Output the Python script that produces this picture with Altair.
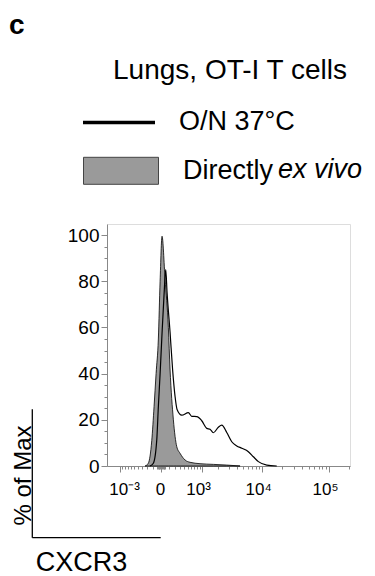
import altair as alt
import pandas as pd

# ---------------- text ----------------
PANEL_LABEL = "c"
TITLE = "Lungs, OT-I T cells"
SERIES_LINE = "O/N 37°C"
SERIES_FILL = "Directly ex vivo"
FILL_LABEL_PLAIN = "Directly"
FILL_LABEL_ITALIC = "ex vivo"
X_TITLE = "CXCR3"
Y_TITLE = "% of Max"

# ---------------- data (CXCR3 intensity, % of max) ----------------
GRAY_X = [-239, -179, -123, -89, -61, -32, -11, 11, 48, 93, 118, 172, 233,
          300, 417, 556, 915, 1628, 2760, 4531]
GRAY_Y = [0, 1.2, 11, 25.7, 40, 55, 80, 99.5, 81, 60, 42, 20, 8.4,
          5.5, 2.6, 1.6, 1.0, 0.7, 0.4, 0]

ON_X = [-150, -99, -52, -32, -11, 8, 35, 57, 75, 118, 158, 202, 239, 338,
        506, 609, 783, 989, 1234, 1420, 1628, 1992, 2276, 2760, 3334, 4014,
        4821, 6118, 7315, 8736, 11735, 16629]
ON_Y = [0, 1.2, 11.3, 25.7, 40, 55, 74, 85, 75, 58, 42, 30, 24.5, 22,
        23.1, 21.5, 21.4, 19.6, 16.3, 15.9, 14.4, 16.8, 17.7, 14.5, 10.5, 8.7,
        7.7, 6.2, 4.0, 1.9, 0.4, 0]

# ---------------- axis ticks ----------------
X_MAJOR = [-1000, 0, 1000, 10000, 100000]
X_MAJOR_LABELS = ["10⁻³", "0", "10³", "10⁴", "10⁵"]
X_MINOR = [-900, -800, -700, -600, -500, -400, -300, -200, -100,
           -50, -40, -30, -20, -10, 10, 20, 30, 40, 50,
           100, 200, 300, 400, 500, 600, 700, 800, 900,
           2000, 3000, 4000, 5000, 6000, 7000, 8000, 9000,
           20000, 30000, 40000, 50000, 60000, 70000, 80000, 90000, 200000]
Y_MAJOR = [0, 20, 40, 60, 80, 100]
Y_MINOR = [5, 10, 15, 25, 30, 35, 45, 50, 55, 65, 70, 75, 85, 90, 95]

FONT = "Liberation Sans"

gray_df = pd.DataFrame({"cxcr3": GRAY_X, "pct": GRAY_Y, "sample": SERIES_FILL})
on_df = pd.DataFrame({"cxcr3": ON_X, "pct": ON_Y, "sample": SERIES_LINE})

x_label_expr = " : ".join(
    f"datum.value == {v} ? '{l}'" for v, l in zip(X_MAJOR, X_MAJOR_LABELS)
) + " : ''"
x_major_test = "indexof([" + ",".join(str(v) for v in X_MAJOR) + "], datum.value) >= 0"

x_scale = alt.Scale(type="symlog", constant=330, domain=[-1750, 205000], nice=False)
y_scale = alt.Scale(domain=[0, 104.8], nice=False, zero=False)

x_axis = alt.Axis(
    values=sorted(X_MAJOR + X_MINOR),
    tickCount=1000,
    labelExpr=x_label_expr,
    tickSize={"condition": {"test": x_major_test, "value": 6}, "value": 3},
    labelOffset={"condition": [{"test": "datum.value == -1000", "value": 4},
                               {"test": "datum.value == 0", "value": -1}],
                 "value": -4},
    labelFontSize=17,
    labelPadding=9,
    labelOverlap=False,
    labelFlush=False,
    labelBound=False,
    grid=False,
    title=X_TITLE,
    titleFontSize=27,
    titleFontWeight="normal",
    titleX=-26,
    titleY=104,
    titleBaseline="alphabetic",
    titleAlign="center",
)

y_axis = alt.Axis(
    values=sorted(Y_MAJOR + Y_MINOR),
    tickCount=1000,
    format="d",
    labelExpr="datum.value % 20 == 0 ? format(datum.value, 'd') : ''",
    tickSize={"condition": {"test": "datum.value % 20 == 0", "value": 6}, "value": 3},
    labelFontSize=19,
    labelPadding=2,
    labelOverlap=False,
    labelBound=False,
    grid=False,
    title=Y_TITLE,
    titleFontSize=24,
    titleFontWeight="normal",
    titleX=-77,
    titleY=251,
    titleBaseline="alphabetic",
    titleAlign="center",
)

area = alt.Chart(gray_df).mark_area(
    interpolate="monotone", stroke="black", strokeWidth=0.8
).encode(
    x=alt.X("cxcr3:Q", scale=x_scale, axis=x_axis),
    y=alt.Y("pct:Q", scale=y_scale, axis=y_axis),
    fill=alt.Fill(
        "sample:N",
        scale=alt.Scale(domain=[SERIES_FILL], range=["#9a9a9a"]),
        legend=alt.Legend(
            orient="none", legendX=-24, legendY=-91.2, title=None,
            symbolType="M-1,-0.36H1V0.36H-1Z", symbolSize=5625,
            symbolStrokeColor="#444444", symbolStrokeWidth=1, symbolOpacity=1,
            labelExpr=f"'{FILL_LABEL_PLAIN}'", labelFont=FONT, labelFontSize=27,
            labelColor="black", labelOffset=24, labelLimit=400, padding=0,
        ),
    ),
)

line = alt.Chart(on_df).mark_line(
    interpolate="monotone", strokeWidth=1.2
).encode(
    x=alt.X("cxcr3:Q", scale=x_scale),
    y=alt.Y("pct:Q", scale=y_scale),
    stroke=alt.Stroke(
        "sample:N",
        scale=alt.Scale(domain=[SERIES_LINE], range=["black"]),
        legend=alt.Legend(
            orient="none", legendX=-26, legendY=-139.6, title=None,
            symbolType="stroke", symbolSize=5184, symbolStrokeWidth=3.5,
            labelFont=FONT, labelFontSize=27, labelColor="black",
            labelOffset=22, labelLimit=400, padding=0,
        ),
    ),
)

panel = alt.Chart(pd.DataFrame({"t": [PANEL_LABEL]})).mark_text(
    font=FONT, fontSize=28, fontWeight="bold", align="left", baseline="alphabetic",
    color="black",
).encode(text="t:N", x=alt.value(-98), y=alt.value(-190))

title = alt.Chart(pd.DataFrame({"t": [TITLE]})).mark_text(
    font=FONT, fontSize=28, align="center", baseline="alphabetic", color="black",
).encode(text="t:N", x=alt.value(123), y=alt.value(-145))

italic = alt.Chart(pd.DataFrame({"t": [FILL_LABEL_ITALIC]})).mark_text(
    font=FONT, fontSize=27, fontStyle="italic", align="left", baseline="middle",
    color="black",
).encode(text="t:N", x=alt.value(171), y=alt.value(-53.7))

rule_v = alt.Chart(pd.DataFrame({"k": [0]})).mark_rule(
    color="black", strokeWidth=1.3
).encode(x=alt.value(-74.7), y=alt.value(185.3), y2=alt.value(313.7))

rule_h = alt.Chart(pd.DataFrame({"k": [0]})).mark_rule(
    color="black", strokeWidth=1.3
).encode(x=alt.value(-74.7), x2=alt.value(53.7), y=alt.value(313.7))

chart = alt.layer(area, line, panel, title, italic, rule_v, rule_h).resolve_scale(
    fill="independent", stroke="independent"
).properties(
    width=243,
    height=242,
    autosize=alt.AutoSizeParams(type="none"),
    padding={"left": 99, "top": 216, "right": 17, "bottom": 110},
).configure_view(
    stroke="black", strokeWidth=1
).configure_axis(
    domainColor="black", tickColor="black", labelColor="black", titleColor="black",
    labelFont=FONT, titleFont=FONT, domainWidth=1, tickWidth=1,
).configure(background="white")

chart.save("out.html", embed_options={"renderer": "svg", "actions": False})
